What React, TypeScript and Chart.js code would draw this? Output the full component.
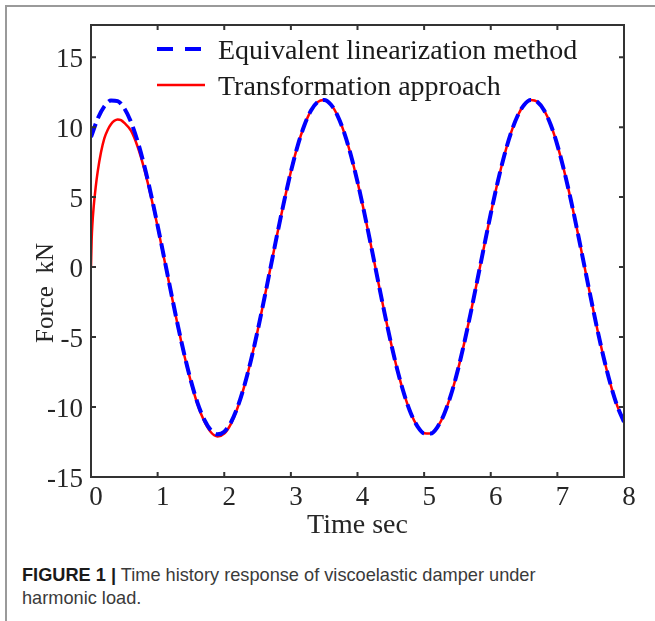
import React, { useEffect, useRef } from 'react';
import { Chart, registerables } from 'chart.js';
Chart.register(...registerables);

const xTicks = [0, 1, 2, 3, 4, 5, 6, 7, 8];
const yTicks = [-15, -10, -5, 0, 5, 10, 15];

const tBlue = [
  0, 0.1, 0.2, 0.3, 0.4, 0.5, 0.6, 0.7, 0.8, 0.9,
  1.0, 1.1, 1.2, 1.3, 1.4, 1.5, 1.6, 1.7, 1.8, 1.9,
  2.0, 2.1, 2.2, 2.3, 2.4, 2.5, 2.6, 2.7, 2.8, 2.9,
  3.0, 3.1, 3.2, 3.3, 3.4, 3.5, 3.6, 3.7, 3.8, 3.9,
  4.0, 4.1, 4.2, 4.3, 4.4, 4.5, 4.6, 4.7, 4.8, 4.9,
  5.0, 5.1, 5.2, 5.3, 5.4, 5.5, 5.6, 5.7, 5.8, 5.9,
  6.0, 6.1, 6.2, 6.3, 6.4, 6.5, 6.6, 6.7, 6.8, 6.9,
  7.0, 7.1, 7.2, 7.3, 7.4, 7.5, 7.6, 7.7, 7.8, 7.9, 8.0,
];
const fBlue = [
  9.29, 10.6, 11.49, 11.91, 11.86, 11.34, 10.37, 8.98, 7.24, 5.21,
  2.97, 0.61, -1.77, -4.09, -6.24, -8.13, -9.72, -10.9, -11.66, -11.95,
  -11.76, -11.1, -10.0, -8.5, -6.67, -4.57, -2.28, 0.09, 2.47, 4.73,
  6.82, 8.64, 10.1, 11.17, 11.79, 11.94, 11.62, 10.83, 9.61, 8.01,
  6.09, 3.93, 1.6, -0.79, -3.14, -5.37, -7.38, -9.08, -10.44, -11.38,
  -11.88, -11.9, -11.43, -10.51, -9.17, -7.47, -5.47, -3.25, -0.9, 1.48,
  3.81, 5.99, 7.92, 9.54, 10.78, 11.59, 11.94, 11.81, 11.21, 10.17,
  8.72, 6.91, 4.85, 2.58, 0.21, -2.17, -4.46, -6.57, -8.42, -9.94, -11.06,
];

const tRed = [
  0, 0.01, 0.02, 0.04, 0.07, 0.1, 0.15, 0.2, 0.25, 0.3, 0.35, 0.4, 0.45, 0.5,
  0.6, 0.7, 0.8, 0.9, 1.0, 1.1, 1.2, 1.3, 1.4, 1.5, 1.6, 1.7, 1.8, 1.9,
  2.0, 2.1, 2.2, 2.3, 2.4, 2.5, 2.6, 2.7, 2.8, 2.9,
  3.0, 3.1, 3.2, 3.3, 3.4, 3.5, 3.6, 3.7, 3.8, 3.9,
  4.0, 4.1, 4.2, 4.3, 4.4, 4.5, 4.6, 4.7, 4.8, 4.9,
  5.0, 5.1, 5.2, 5.3, 5.4, 5.5, 5.6, 5.7, 5.8, 5.9,
  6.0, 6.1, 6.2, 6.3, 6.4, 6.5, 6.6, 6.7, 6.8, 6.9,
  7.0, 7.1, 7.2, 7.3, 7.4, 7.5, 7.6, 7.7, 7.8, 7.9, 8.0,
];
const fRed = [
  0, 2.0, 3.0, 4.3, 5.7, 6.8, 8.2, 9.2, 9.8, 10.2, 10.45, 10.55, 10.5, 10.3,
  9.75, 8.6, 7.0, 5.05, 2.88, 0.55, -1.8, -4.12, -6.3, -8.2, -9.82, -11.02, -11.8, -12.1,
  -11.9, -11.2, -10.05, -8.52, -6.67, -4.57, -2.28, 0.09, 2.47, 4.73,
  6.82, 8.64, 10.1, 11.17, 11.79, 11.94, 11.62, 10.83, 9.61, 8.01,
  6.09, 3.93, 1.6, -0.79, -3.14, -5.37, -7.38, -9.08, -10.44, -11.38,
  -11.88, -11.9, -11.43, -10.51, -9.17, -7.47, -5.47, -3.25, -0.9, 1.48,
  3.81, 5.99, 7.92, 9.54, 10.78, 11.59, 11.94, 11.81, 11.21, 10.17,
  8.72, 6.91, 4.85, 2.58, 0.21, -2.17, -4.46, -6.57, -8.42, -9.94, -11.06,
];

const seriesNames = ['Equivalent linearization method', 'Transformation approach'];
const xTitle = 'Time sec';
const yTitle = 'Force  kN';
const captionBold = 'FIGURE 1 |';
const captionLine1 = ' Time history response of viscoelastic damper under';
const captionLine2 = 'harmonic load.';

const SERIF = '"Liberation Serif", "Times New Roman", serif';
const INK = '#262626';

const framePlugin = {
  id: 'matlabFrame',
  afterDraw(chart: any) {
    const { ctx, chartArea: a, scales } = chart;
    const xs = scales.x;
    const ys = scales.y;
    ctx.save();
    // axes box
    ctx.strokeStyle = '#333333';
    ctx.lineWidth = 2;
    ctx.setLineDash([]);
    ctx.strokeRect(a.left, a.top, a.right - a.left, a.bottom - a.top);
    // inward ticks on all four sides
    const tl = 5;
    ctx.beginPath();
    xTicks.forEach((v) => {
      const p = xs.getPixelForValue(v);
      ctx.moveTo(p, a.bottom); ctx.lineTo(p, a.bottom - tl);
      ctx.moveTo(p, a.top); ctx.lineTo(p, a.top + tl);
    });
    yTicks.forEach((v) => {
      const p = ys.getPixelForValue(v);
      ctx.moveTo(a.left, p); ctx.lineTo(a.left + tl, p);
      ctx.moveTo(a.right, p); ctx.lineTo(a.right - tl, p);
    });
    ctx.stroke();

    // legend (inside the axes, no box)
    const ds = chart.data.datasets;
    ds.forEach((d: any, i: number) => {
      const ly = a.top + 24 + i * 36;
      const x0 = a.left + 66;
      const x1 = a.left + 114;
      ctx.beginPath();
      ctx.strokeStyle = d.borderColor;
      ctx.lineWidth = d.borderWidth;
      ctx.lineCap = 'butt';
      ctx.setLineDash(d.borderDash && d.borderDash.length ? [16, 12] : []);
      ctx.moveTo(x0, ly);
      ctx.lineTo(x1, ly);
      ctx.stroke();
      ctx.setLineDash([]);
      ctx.fillStyle = '#1a1a1a';
      ctx.font = `28px ${SERIF}`;
      ctx.textAlign = 'left';
      ctx.textBaseline = 'alphabetic';
      ctx.fillText(d.label, a.left + 127, ly + 9.5);
    });

    // axis titles
    ctx.fillStyle = INK;
    ctx.font = `28px ${SERIF}`;
    ctx.textAlign = 'center';
    ctx.textBaseline = 'alphabetic';
    ctx.fillText(xTitle, (a.left + a.right) / 2, a.bottom + 56);

    ctx.save();
    ctx.font = `25px ${SERIF}`;
    ctx.translate(53, a.bottom - 134);
    ctx.rotate(-Math.PI / 2);
    ctx.textAlign = 'left';
    ctx.fillText(yTitle, 0, 0);
    ctx.restore();

    ctx.restore();
  },
};

export default function App() {
  const ref = useRef<HTMLCanvasElement>(null);
  useEffect(() => {
    const chart = new Chart(ref.current as HTMLCanvasElement, {
      type: 'line',
      data: {
        datasets: [
          {
            label: seriesNames[0],
            data: tBlue.map((t, i) => ({ x: t, y: fBlue[i] })),
            borderColor: '#0000ff',
            borderWidth: 4,
            borderDash: [14, 6],
            borderCapStyle: 'butt',
            pointRadius: 0,
            fill: false,
            cubicInterpolationMode: 'monotone',
          },
          {
            label: seriesNames[1],
            data: tRed.map((t, i) => ({ x: t, y: fRed[i] })),
            borderColor: '#ff0000',
            borderWidth: 2.5,
            pointRadius: 0,
            fill: false,
            cubicInterpolationMode: 'monotone',
          },
        ],
      },
      options: {
        responsive: false,
        animation: false,
        devicePixelRatio: 1,
        layout: { padding: { left: 0, top: 25, right: 31, bottom: 0 } },
        plugins: { legend: { display: false }, tooltip: { enabled: false } },
        scales: {
          x: {
            type: 'linear',
            min: 0,
            max: 8,
            afterBuildTicks: (s: any) => { s.ticks = xTicks.map((v) => ({ value: v })); },
            afterFit: (s: any) => { s.height = 68; },
            grid: { display: false, drawTicks: false },
            border: { display: false },
            ticks: {
              font: { family: SERIF, size: 27 },
              color: INK,
              padding: 5,
              labelOffset: 5,
              maxRotation: 0,
              autoSkip: false,
            },
          },
          y: {
            type: 'linear',
            min: -15,
            max: 17.3,
            afterBuildTicks: (s: any) => { s.ticks = yTicks.map((v) => ({ value: v })); },
            afterFit: (s: any) => { s.width = 91; },
            grid: { display: false, drawTicks: false },
            border: { display: false },
            ticks: {
              font: { family: SERIF, size: 27 },
              color: INK,
              padding: 8,
              labelOffset: 3,
              autoSkip: false,
            },
          },
        },
      },
      plugins: [framePlugin],
    } as any);
    return () => chart.destroy();
  }, []);

  return (
    <div style={{ position: 'absolute', left: 0, top: 0, width: 655, height: 621, overflow: 'hidden', background: '#ffffff' }}>
      <div style={{ position: 'absolute', left: 5, top: 5, width: 700, height: 700, borderTop: '2px solid #9a9a9a', borderLeft: '2px solid #9a9a9a' }} />
      <canvas ref={ref} width={655} height={545} style={{ position: 'absolute', left: 0, top: 0, width: 655, height: 545 }} />
      <div
        style={{
          position: 'absolute',
          left: 22,
          top: 564,
          fontFamily: '"Liberation Sans", Arial, sans-serif',
          fontSize: 18.2,
          lineHeight: '23px',
          color: '#3a3a3a',
          whiteSpace: 'nowrap',
        }}
      >
        <span style={{ fontWeight: 'bold', color: '#1a1a1a' }}>{captionBold}</span>
        {captionLine1}
        <br />
        {captionLine2}
      </div>
    </div>
  );
}
